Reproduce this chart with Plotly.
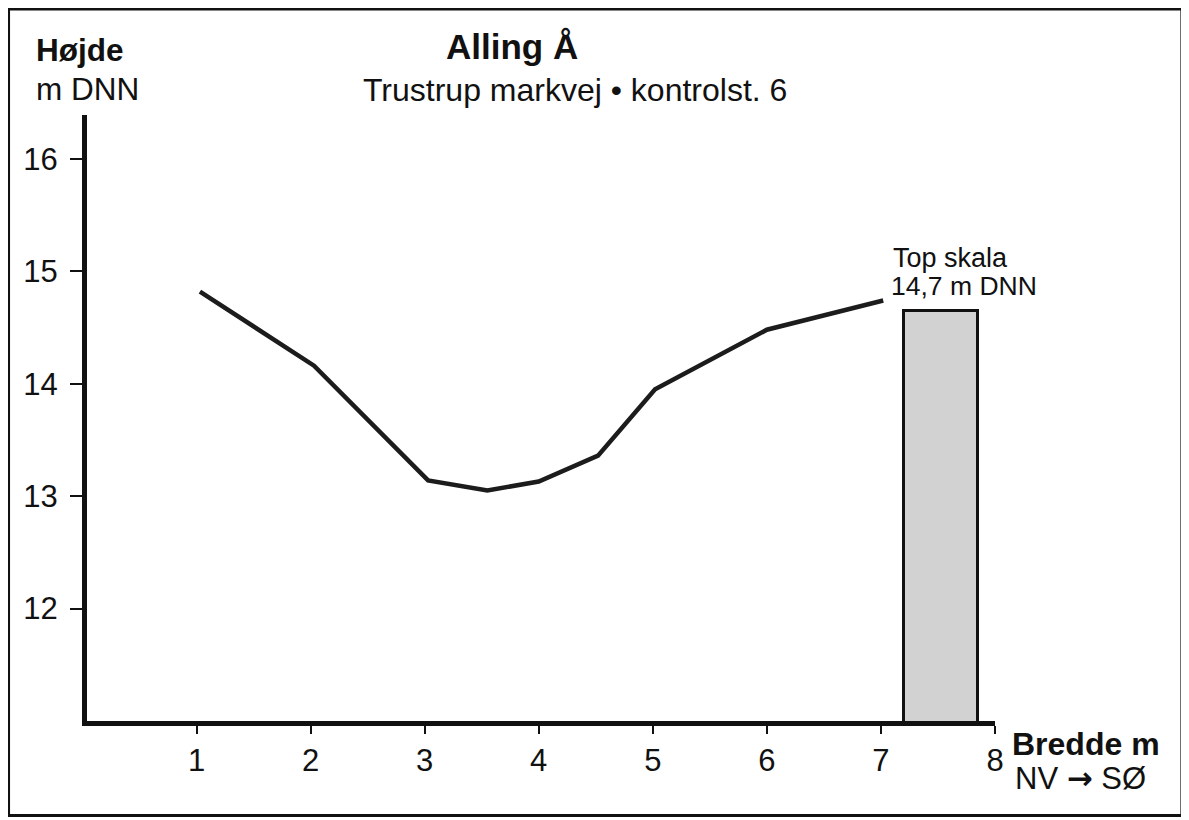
import plotly.graph_objects as go

# ---- data ----
profile_x = [1.03, 2.03, 3.03, 3.55, 4.0, 4.52, 5.02, 6.0, 7.02]
profile_y = [14.82, 14.16, 13.14, 13.05, 13.13, 13.36, 13.95, 14.48, 14.74]

scale_left = 7.2
scale_right = 7.85
scale_top = 14.65

y_ticks = [12, 13, 14, 15, 16]
x_ticks = [1, 2, 3, 4, 5, 6, 7, 8]

FONT = "Liberation Sans, Arial, Helvetica, sans-serif"

# The page body has an 8px margin, so the figure is drawn 8px smaller and
# every reference pixel position is shifted by that offset.
OFF = 8
W_TOT, H_TOT = 1189 - OFF, 820 - OFF
# plot-area geometry in reference pixels
L, R, T, B = 86.5, 995, 115, 721.5


def px_x(px):
    return (px - L) / (R - L)


def px_y(py):
    return (B - py) / (B - T)


fig = go.Figure()

fig.add_trace(go.Bar(
    x=[(scale_left + scale_right) / 2],
    y=[scale_top],
    width=[scale_right - scale_left],
    marker=dict(color="#d2d2d2", line=dict(color="#111111", width=3)),
    hoverinfo="skip",
    showlegend=False,
))

fig.add_trace(go.Scatter(
    x=profile_x, y=profile_y, mode="lines",
    line=dict(color="#1c1c1c", width=4.5),
    showlegend=False,
))

fig.update_xaxes(
    range=[0.04, 8], tickvals=x_ticks, ticktext=[str(v) for v in x_ticks],
    showgrid=False, zeroline=False,
    showline=True, linecolor="#111111", linewidth=5,
    ticks="outside", ticklen=8, tickwidth=1.5, tickcolor="#111111",
    tickfont=dict(family=FONT, size=31, color="#111111"),
)
fig.update_yaxes(
    range=[11, 16.39], tickvals=y_ticks, ticktext=[str(v) for v in y_ticks],
    showgrid=False, zeroline=False,
    showline=True, linecolor="#111111", linewidth=5,
    ticks="outside", ticklen=12, tickwidth=1.5, tickcolor="#111111",
    ticklabelstandoff=6,
    tickfont=dict(family=FONT, size=31, color="#111111"),
)


def ann(text, px, py, size, xanchor="left", bold=False):
    return dict(
        text=f"<b>{text}</b>" if bold else text,
        x=px_x(px), y=px_y(py), xref="paper", yref="paper",
        xanchor=xanchor, yanchor="middle", showarrow=False,
        font=dict(family=FONT, size=size, color="#111111"),
    )


annotations = [
    ann("Højde", 33, 50, 31.5, bold=True),
    ann("m DNN", 33, 89, 31.5),
    ann("Alling Å", 512, 46, 35, xanchor="center", bold=True),
    ann("Trustrup markvej • kontrolst. 6", 575, 90, 32, xanchor="center"),
    ann("Bredde m", 1010, 745, 32, bold=True),
    ann("NV <span style=\"font-family:'DejaVu Sans';font-weight:bold\">→</span> SØ",
        1013, 779, 31),
    ann("Top skala", 891, 258, 27),
    ann("14,7 m DNN", 889, 286, 26.5),
]

fig.update_layout(
    width=W_TOT, height=H_TOT,
    margin=dict(l=L - OFF, r=1189 - R, t=T - OFF, b=820 - B, pad=0),
    paper_bgcolor="white", plot_bgcolor="white",
    bargap=0, showlegend=False,
    annotations=annotations,
    shapes=[dict(
        type="rect", xref="paper", yref="paper",
        x0=px_x(8), x1=px_x(1182), y0=px_y(816), y1=px_y(9),
        line=dict(color="#111111", width=3), fillcolor="rgba(0,0,0,0)",
        layer="above",
    )],
)

fig.write_html("out.html")
